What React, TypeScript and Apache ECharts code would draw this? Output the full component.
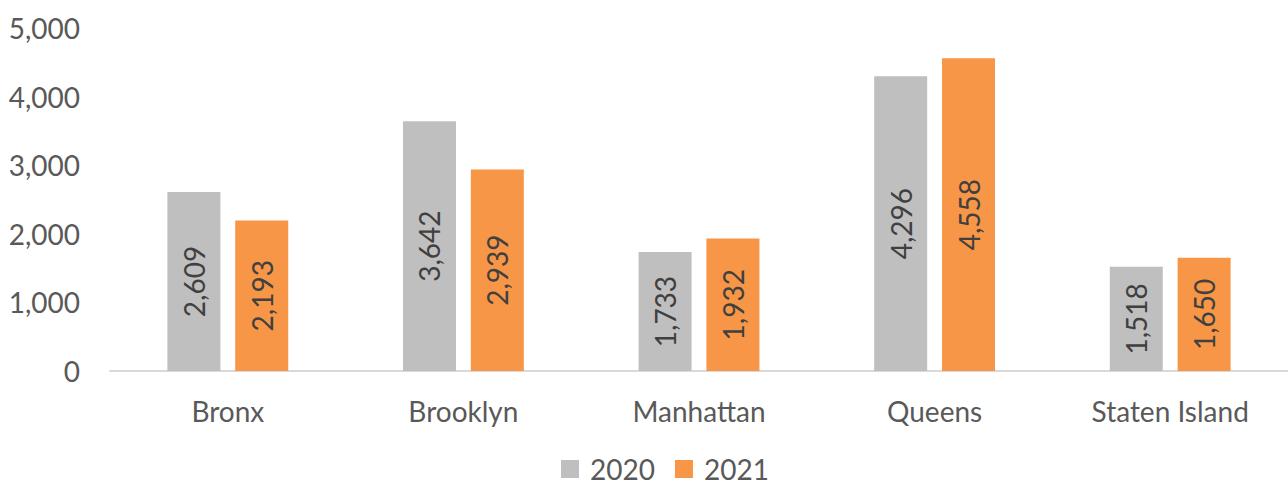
import React, { useEffect, useRef } from "react";
import * as echarts from "echarts";

const categories = ["Bronx", "Brooklyn", "Manhattan", "Queens", "Staten Island"];
const series2020 = [2609, 3642, 1733, 4296, 1518];
const series2021 = [2193, 2939, 1932, 4558, 1650];
const yTicks = { min: 0, max: 5000, interval: 1000 };

const FONT = "Lato, 'Open Sans', sans-serif";
const TXT = "#595959";

export default function App() {
  const ref = useRef<HTMLDivElement>(null);
  useEffect(() => {
    if (!ref.current) return;
    const chart = echarts.init(ref.current, null, { renderer: "svg" });
    const fmt = (v: number) => v.toLocaleString("en-US");
    const label = {
      show: true,
      position: "inside",
      rotate: 90,
      color: "#404040",
      fontSize: 28,
      fontFamily: FONT,
      formatter: (p: any) => fmt(p.value),
    };
    chart.setOption({
      animation: false,
      textStyle: { fontFamily: FONT },
      grid: { left: 110, right: 0, top: 28, bottom: 119 },
      legend: {
        bottom: 2,
        left: 556,
        itemWidth: 18,
        itemHeight: 18,
        itemGap: 20,
        icon: "rect",
        textStyle: { color: TXT, fontSize: 28, fontFamily: FONT, padding: [0, 0, 0, 6] },
        data: ["2020", "2021"],
      },
      xAxis: {
        type: "category",
        data: categories,
        axisLine: { lineStyle: { color: "#d9d9d9", width: 2 } },
        axisTick: { show: false },
        axisLabel: { color: TXT, fontSize: 28, fontFamily: FONT, margin: 26 },
      },
      yAxis: {
        type: "value",
        min: yTicks.min,
        max: yTicks.max,
        interval: yTicks.interval,
        splitLine: { show: false },
        axisLine: { show: false },
        axisTick: { show: false },
        axisLabel: {
          color: TXT,
          fontSize: 28,
          fontFamily: FONT,
          margin: 30,
          formatter: (v: number) => fmt(v),
        },
      },
      series: [
        {
          name: "2020",
          type: "bar",
          data: series2020,
          barWidth: 53,
          barGap: "28%",
          itemStyle: { color: "#bfbfbf" },
          label,
        },
        {
          name: "2021",
          type: "bar",
          data: series2021,
          barWidth: 53,
          itemStyle: { color: "#f79646" },
          label,
        },
      ],
    });
    return () => chart.dispose();
  }, []);
  return <div ref={ref} style={{ width: 1288, height: 490, position: "absolute", left: 0, top: 0 }} />;
}
